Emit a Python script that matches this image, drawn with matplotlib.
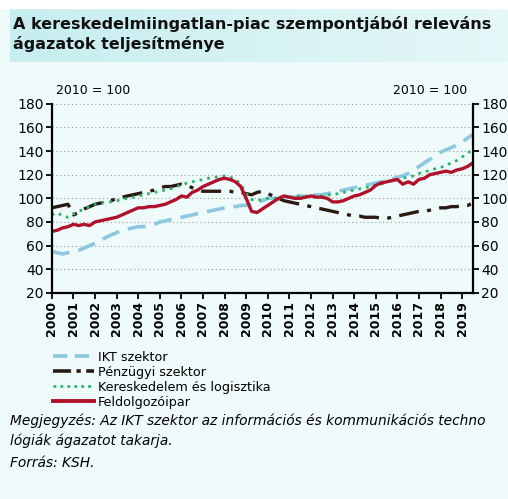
import matplotlib.pyplot as plt
import numpy as np
from matplotlib.lines import Line2D

plt.rcParams['font.family'] = ['DejaVu Sans']

# quarterly index values, 2010 = 100 (2000 Q1 .. 2019 Q3)
ikt = [55, 54, 53, 54, 55, 56, 58, 60, 62, 64, 67, 69, 71, 73, 74, 75,
       76, 76, 77, 78, 80, 81, 82, 83, 84, 85, 86, 87, 88, 89, 90, 91,
       92, 93, 93, 94, 94, 95, 97, 98, 100, 100, 100, 101, 101, 101, 102, 102,
       102, 103, 103, 104, 105, 106, 107, 108, 109, 110, 111, 112,
       113, 114, 115, 116, 118, 119, 121, 124, 127, 130, 133, 136,
       139, 141, 143, 145, 148, 151, 154]
penzugyi = [92, 93, 94, 95, 86, 88, 91, 93, 95, 96, 97, 98, 100, 101, 102, 103,
            104, 105, 106, 107, 109, 110, 110, 111, 112, 111, 109, 107,
            106, 106, 106, 106, 106, 106, 105, 105, 104, 103, 105, 106,
            104, 102, 100, 98, 97, 96, 95, 94, 93, 92, 91, 90, 89, 88, 87, 86,
            85, 85, 84, 84, 84, 83, 83, 84, 85, 86, 87, 88, 89, 89, 90, 91,
            92, 92, 93, 93, 94, 94, 96]
kereskedelem = [86, 88, 85, 84, 87, 89, 91, 93, 95, 96, 97, 97, 98, 99, 100, 101,
                102, 103, 104, 105, 106, 107, 108, 110, 111, 113, 114, 115,
                116, 117, 118, 118, 119, 118, 116, 112, 104, 99, 98, 99,
                100, 100, 100, 101, 101, 102, 102, 102, 102, 102, 102, 103,
                103, 104, 105, 106, 107, 108, 109, 110, 111, 112, 114, 115,
                116, 117, 118, 119, 121, 122, 124, 125, 126, 128, 130, 132,
                135, 138, 142]
feldolgozo = [72, 73, 75, 76, 78, 77, 78, 77, 80, 81, 82, 83, 84, 86, 88, 90,
              92, 92, 93, 93, 94, 95, 97, 99, 102, 101, 105, 107,
              110, 112, 114, 116, 117, 116, 114, 110, 100, 89, 88, 91,
              94, 97, 100, 102, 101, 100, 100, 101, 102, 101, 101, 100,
              97, 97, 98, 100, 102, 103, 105, 107, 111, 113, 114, 115,
              116, 112, 114, 112, 116, 117, 120, 121, 122, 123, 122, 124,
              125, 127, 130]
years = list(range(2000, 2020))
x = 2000 + np.arange(len(ikt)) / 4

bg = '#effafa'
fig = plt.figure(figsize=(5.08, 4.99), dpi=100, facecolor=bg)

# title band with soft gradient
band = fig.add_axes([0.02, 0.876, 0.98, 0.108])
grad = np.linspace(0, 1, 256).reshape(1, -1)
c1 = np.array([0.78, 0.93, 0.94])
c2 = np.array([0.90, 0.97, 0.97])
img = c1 + (c2 - c1) * grad[..., None]
band.imshow(img, aspect='auto', extent=[0, 1, 0, 1])
band.axis('off')
fig.patches.append(plt.Rectangle((0, 0.984), 1, 0.016, transform=fig.transFigure,
                                 color='white', zorder=0))
fig.text(0.025, 0.967, 'A kereskedelmiingatlan-piac szempontjából releváns\nágazatok teljesítménye',
         fontsize=11.5, fontweight='bold', va='top', ha='left', color='#111111',
         linespacing=1.25)

ax = fig.add_axes([0.102, 0.413, 0.829, 0.379])
ax.set_facecolor(bg)
ax.plot(x, ikt, color='#8cc8e0', lw=2.6, dashes=(5, 2.5), label='IKT szektor')
ax.plot(x, penzugyi, color='#2a1a12', lw=2.4, dashes=(6, 2.5, 1.2, 2.5), label='Pénzügyi szektor')
ax.plot(x, kereskedelem, color='#2eb36c', lw=2.0, dashes=(1, 1.8), label='Kereskedelem és logisztika')
ax.plot(x, feldolgozo, color='#b0122c', lw=2.4, label='Feldolgozóipar')

ax.set_ylim(20, 180)
ax.set_xlim(2000, 2019.5)
ax.set_yticks(range(20, 181, 20))
ax.set_xticks(years)
ax.set_xticklabels([str(y) for y in years], rotation=90, fontsize=9, fontweight='bold')
for v in range(40, 181, 20):
    ax.axhline(v, color='#999999', lw=0.8, ls=(0, (1, 2.5)), zorder=0)
ax.tick_params(axis='y', labelsize=10, length=4, width=1.3, right=True, labelright=True,
               pad=2)
ax.tick_params(axis='x', length=4, width=1.3, pad=2)
ax.spines['top'].set_visible(False)
for s in ['left', 'right', 'bottom']:
    ax.spines[s].set_linewidth(1.6)

fig.text(0.11, 0.818, '2010 = 100', fontsize=9, ha='left', va='center')
fig.text(0.92, 0.818, '2010 = 100', fontsize=9, ha='right', va='center')

handles = [Line2D([], [], color='#8cc8e0', lw=2.6, dashes=(4, 2)),
           Line2D([], [], color='#2a1a12', lw=2.6, dashes=(5, 1.5, 1.2, 1.5)),
           Line2D([], [], color='#2eb36c', lw=2.0, dashes=(1, 1.5)),
           Line2D([], [], color='#b0122c', lw=2.8)]
labels = ['IKT szektor', 'Pénzügyi szektor', 'Kereskedelem és logisztika', 'Feldolgozóipar']
fig.legend(handles, labels, loc='upper left', bbox_to_anchor=(0.104, 0.297),
           frameon=False, fontsize=9.2, handlelength=3.2, handletextpad=0.3,
           labelspacing=0.15, borderpad=0, borderaxespad=0)

fig.text(0.02, 0.137, 'Megjegyzés: Az IKT szektor az információs és kommunikációs techno\nlógiák ágazatot takarja.',
         fontsize=9.9, style='italic', ha='left', va='center', linespacing=1.45)
fig.text(0.02, 0.072, 'Forrás: KSH.', fontsize=9.9, style='italic', ha='left', va='center')

fig.savefig('out.png', dpi=100, facecolor=bg)
